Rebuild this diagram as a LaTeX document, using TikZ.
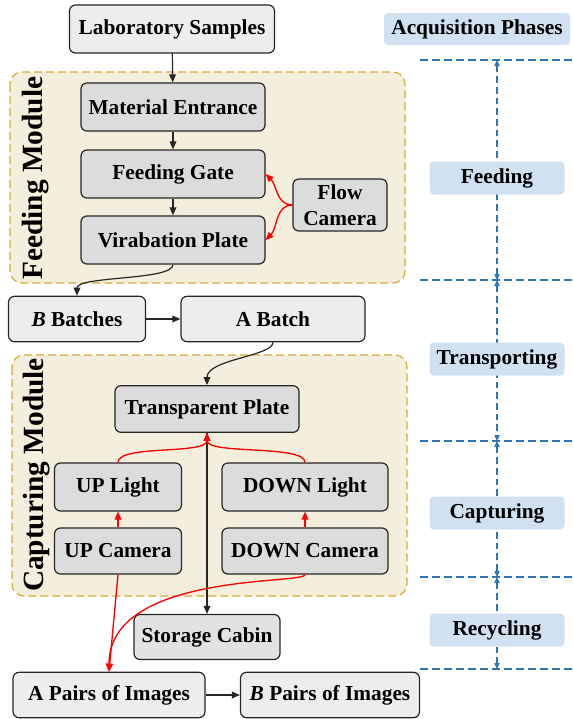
\documentclass[tikz,border=0pt]{standalone}
\usepackage{fontspec}
\setmainfont{Liberation Serif}
\usetikzlibrary{arrows.meta,positioning}
\definecolor{acqGray}{HTML}{DCDCDC}
\definecolor{acqLight}{HTML}{ECEDEF}
\definecolor{acqCabin}{HTML}{E1E2E4}
\definecolor{acqBeige}{HTML}{F4EEDC}
\definecolor{acqGold}{HTML}{D6A937}
\definecolor{acqBlue}{HTML}{2E75B6}
\definecolor{acqSky}{HTML}{D0E1F2}
\definecolor{acqInk}{HTML}{262626}

\begin{document}
\begin{tikzpicture}[
  x=0.75pt,y=0.75pt,
  font=\bfseries\fontsize{16}{19.5}\selectfont,
  box/.style={rounded corners=4.5pt,draw=acqInk,line width=0.9pt,align=center,inner sep=0pt},
  part/.style={box,fill=acqGray,minimum height=35pt},
  stage/.style={box,fill=acqLight,minimum height=34pt},
  module/.style={rounded corners=9pt,draw=acqGold,fill=acqBeige,line width=0.9pt,dash pattern=on 6pt off 3pt},
  modlabel/.style={rotate=90,font=\bfseries\fontsize{22}{24}\selectfont},
  phase/.style={rounded corners=3pt,fill=acqSky,minimum width=101.25pt,minimum height=24.75pt,inner sep=0pt},
  edge/.style={-{Triangle[length=6pt,width=5pt]},line width=0.9pt,draw=acqInk},
  signal/.style={-{Triangle[length=6pt,width=5pt]},line width=1pt,draw=red},
  phasespan/.style={{Triangle[length=4.5pt,width=4pt]}-{Triangle[length=4.5pt,width=4pt]},line width=0.8pt,draw=acqBlue,dash pattern=on 5pt off 3pt},
  phaserule/.style={line width=0.8pt,draw=acqBlue,dash pattern=on 6pt off 3pt}
]
\useasboundingbox (0,0) rectangle (573,-719);

% modules
\draw[module] (10,-72) rectangle (405,-283);
\draw[module] (12,-355) rectangle (407,-596);
\node[modlabel] (feedmod) at (36,-178) {Feeding Module};
\node[modlabel] (capmod) at (37,-475) {Capturing Module};

% flow of samples
\node[stage,minimum width=153.75pt,minimum height=36pt] (lab) at (172,-29) {Laboratory Samples};
\node[part,minimum width=138pt,minimum height=36pt] (entrance) at (173,-107) {Material Entrance};
\node[part,minimum width=138pt,minimum height=36pt] (gate) at (173,-174) {Feeding Gate};
\node[part,minimum width=138pt,minimum height=36pt] (vplate) at (173,-240) {Virabation Plate};
\node[part,minimum width=70.5pt,minimum height=39pt] (flowcam) at (340,-205) {Flow\\Camera};
\node[stage,minimum width=102.75pt] (bbatch) at (77,-319) {\textit{B} Batches};
\node[stage,minimum width=138pt] (abatch) at (273,-319) {A Batch};
\node[part,minimum width=138pt] (tplate) at (207,-409) {Transparent Plate};
\node[part,minimum width=95.25pt,minimum height=36pt] (uplight) at (118,-487) {UP Light};
\node[part,minimum width=124.5pt,minimum height=36pt] (downlight) at (305,-487) {DOWN Light};
\node[part,minimum width=95.25pt,minimum height=34.5pt] (upcam) at (118,-551) {UP Camera};
\node[part,minimum width=124.5pt,minimum height=34.5pt] (downcam) at (305,-551) {DOWN Camera};
\node[box,fill=acqCabin,minimum width=109.5pt,minimum height=33.75pt] (cabin) at (207,-637) {Storage Cabin};
\node[stage,minimum width=144pt] (apairs) at (109,-695) {A Pairs of Images};
\node[stage,minimum width=134.25pt] (bpairs) at (330,-695) {\textit{B} Pairs of Images};

\draw[edge] (lab) -- (entrance);
\draw[edge] (entrance) -- (gate);
\draw[edge] (gate) -- (vplate);
\draw[signal] (flowcam.west) to[out=180,in=-45] (gate.east);
\draw[signal] (flowcam.west) to[out=180,in=45] (vplate.east);
\draw[edge] (vplate.south) .. controls +(0,-16) and +(0,20) .. (bbatch.north);
\draw[edge] (bbatch) -- (abatch);
\draw[edge] (abatch.south) .. controls +(0,-14) and +(0,26) .. (tplate.north);
\draw[edge] (tplate.south) -- (cabin.north);
\draw[signal] (uplight.north) .. controls +(0,18) and +(0,-22) .. (tplate.south);
\draw[signal] (downlight.north) .. controls +(0,18) and +(0,-22) .. (tplate.south);
\draw[signal] (upcam) -- (uplight);
\draw[signal] (downcam) -- (downlight);
\draw[signal] (upcam.south) -- (apairs.north);
\draw[signal] (downcam.south) .. controls +(0,-10) and +(0,100) .. (apairs.north);
\draw[edge] (apairs) -- (bpairs);

% acquisition phases
\coordinate (m0) at (497,-60);
\coordinate (m1) at (497,-280);
\coordinate (m2) at (497,-441);
\coordinate (m3) at (497,-577);
\coordinate (m4) at (497,-669);
\foreach \y in {60,280,441,577,669} {\draw[phaserule] (420,-\y) -- (573,-\y);}
\draw[phasespan] (m0) -- (m1);
\draw[phasespan] (m1) -- (m2);
\draw[phasespan] (m2) -- (m3);
\draw[phasespan] (m3) -- (m4);
\node[phase,minimum width=139.5pt,minimum height=24pt] (acq) at (477,-29) {Acquisition Phases};
\node[phase] (feeding) at (497,-178) {Feeding};
\node[phase] (transporting) at (497,-359) {Transporting};
\node[phase] (capturing) at (497,-513) {Capturing};
\node[phase] (recycling) at (497,-630) {Recycling};
\end{tikzpicture}
\end{document}
